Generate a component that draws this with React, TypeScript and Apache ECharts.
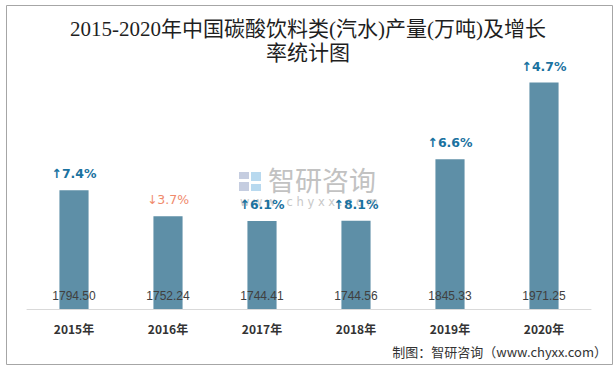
import React, { useEffect, useRef } from "react";
import * as echarts from "echarts";

const categories = ["2015年", "2016年", "2017年", "2018年", "2019年", "2020年"];
const production = [1794.5, 1752.24, 1744.41, 1744.56, 1845.33, 1971.25];
const growth = [7.4, -3.7, 6.1, 8.1, 6.6, 4.7];

export default function App() {
  const ref = useRef<HTMLDivElement>(null);
  useEffect(() => {
    const chart = echarts.init(ref.current!, null, { renderer: "svg" });
    chart.setOption({
      animation: false,
      backgroundColor: "#ffffff",
      title: {
        text: "2015-2020年中国碳酸饮料类(汽水)产量(万吨)及增长\n率统计图",
        left: "center",
        top: 12,
        textStyle: {
          fontFamily: "Liberation Serif, Noto Sans CJK SC",
          fontSize: 21,
          fontWeight: "normal",
          color: "#1f1f1f",
          lineHeight: 24,
        },
      },
      grid: { left: 27, right: 25, top: 65, bottom: 60 },
      xAxis: {
        type: "category",
        data: categories,
        axisTick: { show: false },
        axisLine: { lineStyle: { color: "#d9d9d9" } },
        axisLabel: {
          margin: 13,
          fontSize: 12,
          fontWeight: "bold",
          color: "#333333",
          fontFamily: "Noto Sans CJK SC",
        },
      },
      yAxis: {
        type: "value",
        min: 1600,
        max: 2000,
        show: false,
        splitLine: { show: false },
      },
      series: [
        {
          type: "bar",
          data: production,
          barWidth: "31%",
          itemStyle: {
            color: "#5e8fa7",
            borderWidth: 0,
          },
          label: {
            show: true,
            position: "insideBottom",
            distance: 7,
            color: "#404040",
            fontSize: 12,
            fontFamily: "Liberation Sans",
            formatter: (p: any) => production[p.dataIndex].toFixed(2),
          },
        },
        {
          type: "bar",
          data: production,
          barWidth: "31%",
          barGap: "-100%",
          itemStyle: { color: "rgba(0,0,0,0)" },
          label: {
            show: true,
            position: "top",
            distance: 10,
            formatter: (p: any) => {
              const g = growth[p.dataIndex];
              return g >= 0 ? `{up|↑${g.toFixed(1)}%}` : `{down|↓${Math.abs(g).toFixed(1)}%}`;
            },
            rich: {
              up: { color: "#1a72a0", fontSize: 12.5, fontWeight: "bold", fontFamily: "DejaVu Sans" },
              down: { color: "#f08a6c", fontSize: 12.5, fontFamily: "DejaVu Sans" },
            },
          },
        },
      ],
      graphic: [
        {
          type: "rect",
          left: 4,
          top: 3,
          shape: { width: 606, height: 359 },
          style: { fill: "none", stroke: "#a6a6a6", lineWidth: 1 },
          silent: true,
          z: 0,
        },
        {
          type: "group",
          left: 239,
          top: 166,
          children: [
            { type: "rect", shape: { x: 0, y: 0, width: 10, height: 7 }, style: { fill: "#c5cde0" } },
            { type: "rect", shape: { x: 0, y: 10, width: 10, height: 9 }, style: { fill: "#c5cde0" } },
            { type: "rect", shape: { x: 12, y: 0, width: 10, height: 9 }, style: { fill: "#b8d9ef" } },
            { type: "rect", shape: { x: 12, y: 12, width: 10, height: 7 }, style: { fill: "#b8d9ef" } },
            {
              type: "text",
              x: 29,
              y: -6,
              style: { text: "智研咨询", fill: "#c2c2c2", fontSize: 27, fontFamily: "Noto Sans CJK SC" },
            },
            {
              type: "text",
              x: 1,
              y: 24,
              style: { text: "w w w . c h y x x . c o m", fill: "#c8c8c8", fontSize: 11.5, fontFamily: "DejaVu Sans" },
            },
          ],
          silent: true,
          z: -1,
        },
        {
          type: "text",
          right: 9,
          top: 345,
          style: {
            text: "制图：智研咨询（www.chyxx.com）",
            fill: "#333333",
            fontSize: 13,
            fontFamily: "Noto Sans CJK SC",
          },
        },
      ],
    });
    return () => chart.dispose();
  }, []);
  return (
    <div
      ref={ref}
      style={{ position: "fixed", left: 0, top: 0, width: 616, height: 369 }}
    />
  );
}
